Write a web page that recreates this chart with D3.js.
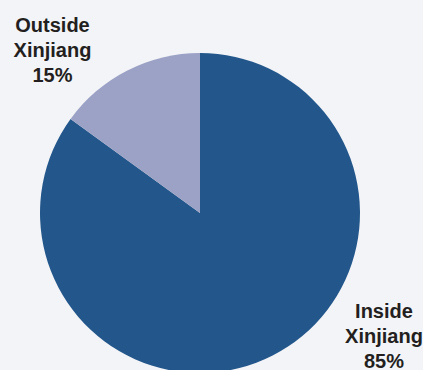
<!DOCTYPE html>
<html><head><meta charset="utf-8">
<script src="https://cdn.jsdelivr.net/npm/d3@7"></script>
<style>body{margin:0;background:#f3f4f8;}svg{display:block;}</style>
</head><body>
<svg id="c" width="423" height="370"></svg>
<script>
const categories = ["Inside Xinjiang", "Outside Xinjiang"];
const values = [85, 15];
const labelLines = [["Inside", "Xinjiang", "85%"], ["Outside", "Xinjiang", "15%"]];
const colors = ["#23578b", "#9ba2c5"];

const svg = d3.select("#c");
svg.append("rect").attr("width", 423).attr("height", 370).attr("fill", "#f3f4f8");
const cx = 200, cy = 213, r = 160;
const pie = d3.pie().sort(null).value(d => d)(values);
const arc = d3.arc().innerRadius(0).outerRadius(r);
const g = svg.append("g").attr("transform", `translate(${cx},${cy})`);
g.selectAll("path").data(pie).join("path")
  .attr("d", arc).attr("fill", (d, i) => colors[i]);

const labelPos = [[384, 318], [52.5, 32]];
labelLines.forEach((lines, i) => {
  const t = svg.append("text").attr("text-anchor", "middle")
    .attr("font-family", "Liberation Sans, Arial, sans-serif")
    .attr("font-weight", "bold").attr("font-size", 20).attr("fill", "#231f20");
  lines.forEach((s, j) => {
    t.append("tspan").attr("x", labelPos[i][0]).attr("y", labelPos[i][1] + j * 25).text(s);
  });
});
</script>
</body></html>
